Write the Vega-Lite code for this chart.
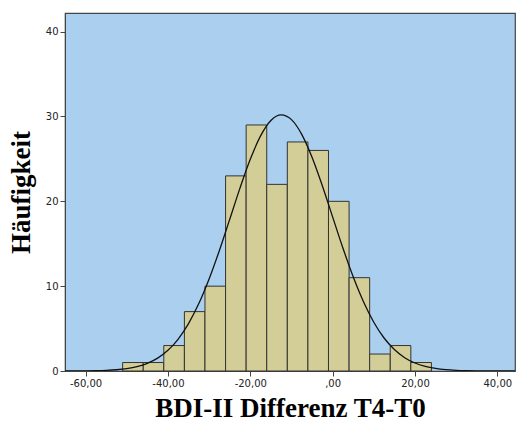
{
  "$schema": "https://vega.github.io/schema/vega-lite/v6.json",
  "width": 450,
  "height": 358,
  "autosize": {"type": "none"},
  "padding": {"left": 65, "top": 13, "right": 1, "bottom": 50},
  "background": "white",
  "config": {
    "view": {"fill": "#ABCFEE", "stroke": "#444444", "strokeWidth": 1.2},
    "axis": {"grid": false, "domainColor": "#444444", "tickColor": "#444444", "tickSize": 5, "labelFont": "DejaVu Sans", "labelFontSize": 10, "labelColor": "#222222", "titleFont": "Liberation Serif", "titleFontWeight": "bold", "titleFontSize": 27, "titleColor": "#000000"}
  },
  "datasets": {
    "bars": [
      {"start": -51, "end": -46, "count": 1},
      {"start": -46, "end": -41, "count": 1},
      {"start": -41, "end": -36, "count": 3},
      {"start": -36, "end": -31, "count": 7},
      {"start": -31, "end": -26, "count": 10},
      {"start": -26, "end": -21, "count": 23},
      {"start": -21, "end": -16, "count": 29},
      {"start": -16, "end": -11, "count": 22},
      {"start": -11, "end": -6, "count": 27},
      {"start": -6, "end": -1, "count": 26},
      {"start": -1, "end": 4, "count": 20},
      {"start": 4, "end": 9, "count": 11},
      {"start": 9, "end": 14, "count": 2},
      {"start": 14, "end": 19, "count": 3},
      {"start": 19, "end": 24, "count": 1}
    ],
    "curve": [
      {"x": -65, "y": 0.003}, {"x": -60, "y": 0.017}, {"x": -57.5, "y": 0.036}, {"x": -55, "y": 0.075},
      {"x": -52.5, "y": 0.149}, {"x": -50, "y": 0.282}, {"x": -47.5, "y": 0.515}, {"x": -45, "y": 0.901},
      {"x": -42.5, "y": 1.512}, {"x": -40, "y": 2.435}, {"x": -37.5, "y": 3.765}, {"x": -35, "y": 5.584},
      {"x": -32.5, "y": 7.946}, {"x": -30, "y": 10.85}, {"x": -27.5, "y": 14.21}, {"x": -25, "y": 17.87},
      {"x": -22.5, "y": 21.56}, {"x": -20, "y": 24.95}, {"x": -17.5, "y": 27.71}, {"x": -15, "y": 29.53},
      {"x": -12.5, "y": 30.2}, {"x": -10, "y": 29.63}, {"x": -7.5, "y": 27.9}, {"x": -5, "y": 25.2},
      {"x": -2.5, "y": 21.84}, {"x": 0, "y": 18.17}, {"x": 2.5, "y": 14.5}, {"x": 5, "y": 11.1},
      {"x": 7.5, "y": 8.16}, {"x": 10, "y": 5.75}, {"x": 12.5, "y": 3.89}, {"x": 15, "y": 2.53},
      {"x": 17.5, "y": 1.57}, {"x": 20, "y": 0.94}, {"x": 22.5, "y": 0.54}, {"x": 25, "y": 0.3},
      {"x": 27.5, "y": 0.156}, {"x": 30, "y": 0.079}, {"x": 32.5, "y": 0.039}, {"x": 35, "y": 0.018},
      {"x": 37.5, "y": 0.008}, {"x": 40, "y": 0.003}, {"x": 44.3, "y": 0.001}
    ]
  },
  "layer": [
    {
      "data": {"name": "bars"},
      "mark": {"type": "rect", "fill": "#D3CE98", "stroke": "#333333", "strokeWidth": 1},
      "encoding": {
        "x": {"field": "start", "type": "quantitative", "scale": {"domain": [-65, 44.3], "nice": false, "zero": false},
          "axis": {"values": [-60, -40, -20, 0, 20, 40], "title": "BDI-II Differenz T4-T0", "titlePadding": 7,
            "labelExpr": "datum.value == 0 ? ',00' : replace(replace(format(datum.value, '.2f'), '.', ','), '\u2212', '-')"}},
        "x2": {"field": "end"},
        "y": {"field": "count", "type": "quantitative", "scale": {"domain": [0, 42.2], "nice": false},
          "axis": {"values": [0, 10, 20, 30, 40], "title": "Häufigkeit", "titlePadding": 10, "labelPadding": 2}},
        "y2": {"datum": 0}
      }
    },
    {
      "data": {"name": "curve"},
      "mark": {"type": "line", "color": "#111111", "strokeWidth": 1.3, "interpolate": "monotone", "clip": true},
      "encoding": {
        "x": {"field": "x", "type": "quantitative"},
        "y": {"field": "y", "type": "quantitative"}
      }
    }
  ]
}
